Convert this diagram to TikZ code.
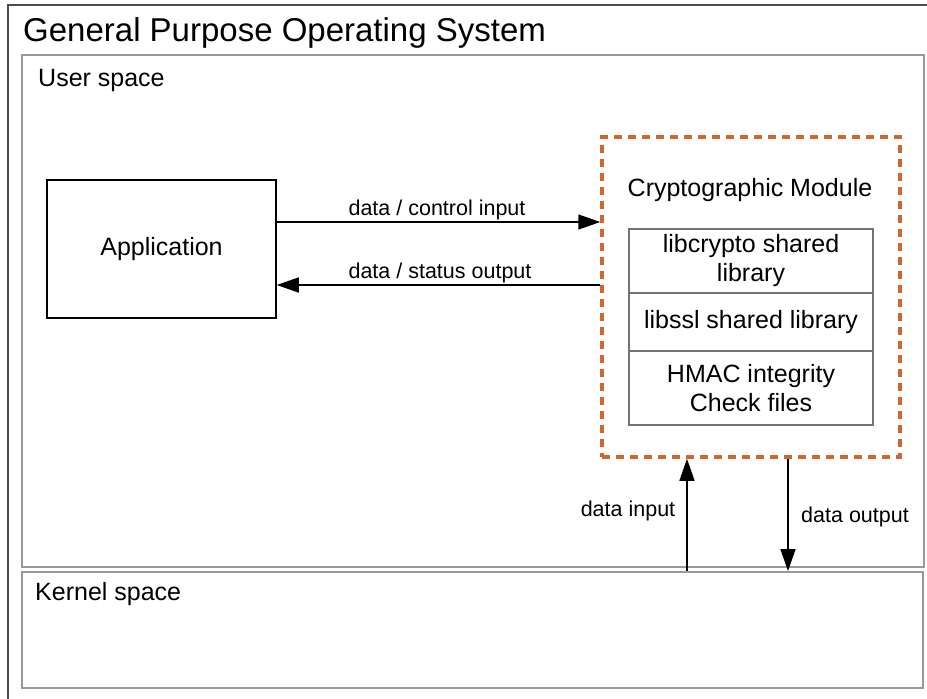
\documentclass[tikz,border=0pt]{standalone}
\usepackage{fontspec}
\setmainfont{Liberation Sans}
\usetikzlibrary{arrows.meta}
\definecolor{cmorange}{RGB}{209,101,46}
\begin{document}
\begin{tikzpicture}[x=1pt,y=-1pt,
    every node/.style={font=\fontsize{25}{29}\selectfont},
    frame/.style={draw=black!40,line width=2pt,inner sep=0pt},
    modbox/.style={draw=black!55,line width=2.5pt,minimum width=244pt,inner sep=0pt,align=center},
    lbl/.style={font=\fontsize{21.5}{25}\selectfont},
    arr/.style={line width=1.5pt,-{Triangle[length=22pt,width=15pt]}}]
  \useasboundingbox (0,0) rectangle (927,699);
  \draw[black!70,line width=2pt] (8,699) -- (8,5) -- (927,5);
  \node[anchor=base west,inner sep=0pt,font=\fontsize{33}{36}\selectfont] (os) at (23,41) {General Purpose Operating System};
  \node[frame,minimum width=902pt,minimum height=512pt] (user) at (473,311) {};
  \node[frame,minimum width=901pt,minimum height=116pt] (kernel) at (472.5,630) {};
  \node[anchor=base west,inner sep=0pt] (userlbl) at (38,86) {User space};
  \node[anchor=base west,inner sep=0pt] (kernellbl) at (35,600) {Kernel space};
  \node[draw,line width=1.5pt,minimum width=229pt,minimum height=138pt] (app) at (161.5,249) {Application};
  \node[draw=cmorange,line width=3.5pt,dash pattern=on 8pt off 6pt,minimum width=298pt,minimum height=320pt] (crypto) at (751,297) {};
  \node (cryptolbl) at (750,190) {Cryptographic Module};
  \node[modbox,minimum height=64pt] (libcrypto) at (751,261) {libcrypto shared\\library};
  \node[modbox,minimum height=58pt] (libssl) at (751,322) {libssl shared library};
  \node[modbox,minimum height=74pt] (hmac) at (751,388) {HMAC integrity\\Check files};
  \draw[arr] (app.east |- 0,222) -- (crypto.west |- 0,222);
  \draw[arr] (crypto.west |- 0,285) -- (app.east |- 0,285);
  \draw[arr] (kernel.north -| 687,0) -- (crypto.south -| 687,0);
  \draw[arr] (crypto.south -| 788,0) -- (kernel.north -| 788,0);
  \node[lbl] (ctrlin) at (437,210) {data / control input};
  \node[lbl] (statout) at (440,273) {data / status output};
  \node[lbl] (datain) at (628,511) {data input};
  \node[lbl] (dataout) at (855,517) {data output};
\end{tikzpicture}
\end{document}
